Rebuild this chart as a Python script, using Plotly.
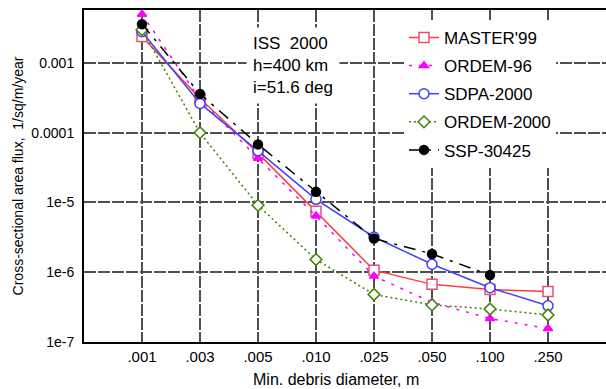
import plotly.graph_objects as go

diam = [".001", ".003", ".005", ".010", ".025", ".050", ".100", ".250"]

master99 = [2.4e-3, 3.1e-4, 5.1e-5, 7.5e-6, 1.07e-6, 6.7e-7, 5.65e-7, 5.3e-7]
ordem96 = [5.0e-3, 3.0e-4, 4.3e-5, 6.4e-6, 8.8e-7, 3.7e-7, 2.17e-7, 1.56e-7]
sdpa2000 = [2.8e-3, 2.63e-4, 5.5e-5, 1.11e-5, 3.2e-6, 1.30e-6, 6.0e-7, 3.3e-7]
ordem2000 = [3.0e-3, 1.0e-4, 9.1e-6, 1.52e-6, 4.8e-7, 3.4e-7, 2.97e-7, 2.44e-7]
ssp30425 = [3.6e-3, 3.6e-4, 6.8e-5, 1.42e-5, 3.04e-6, 1.83e-6, 9.1e-7]

ytickvals = [1e-7, 1e-6, 1e-5, 1e-4, 1e-3]
yticktext = ["1e-7", "1e-6", "1e-5", "0.0001", "0.001"]

FONT = "Arial, Liberation Sans, sans-serif"

fig = go.Figure()

def add(name, y, color, dash, symbol, size, mcolor, fill, width=1.5):
    fig.add_trace(go.Scatter(
        x=diam[:len(y)], y=y, name=name, mode="lines+markers",
        legendgroup=name,
        line=dict(color=color, width=width, dash=dash),
        marker=dict(symbol=symbol, size=size,
                    color=(mcolor if fill else "white"),
                    line=dict(color=mcolor, width=1.5)),
    ))

add("MASTER'99", master99, "#ff3c3c", "solid", "square", 10, "#e8507a", False)
add("ORDEM-96", ordem96, "#ff00ff", "3px,7px", "triangle-up", 8, "#ff00ff", True)
add("SDPA-2000", sdpa2000, "#4040ff", "solid", "circle", 10, "#4040ff", False)
add("ORDEM-2000", ordem2000, "#408000", "2px,3px", "diamond", 9, "#408000", False)
add("SSP-30425", ssp30425, "#000000", "12px,7px,3px,7px", "circle", 9, "#000000", True)

fig.add_annotation(
    xref="paper", yref="paper", x=0.31, y=0.95, xanchor="left", yanchor="top",
    text="ISS  2000<br>h=400 km<br>i=51.6 deg", align="left", showarrow=False,
    font=dict(family=FONT, size=17, color="black"),
    bgcolor="white", borderpad=6,
)

# x-axis title placed slightly left of centre, as in the reference
fig.add_annotation(
    xref="paper", yref="paper", x=0.483, y=-0.113, xanchor="center", yanchor="middle",
    text="Min. debris diameter, m", showarrow=False,
    font=dict(family=FONT, size=16, color="black"),
)

grid = dict(showgrid=True, gridcolor="#505050", gridwidth=2, griddash="12px,2px")

fig.update_layout(
    width=606, height=389,
    margin=dict(l=84, r=0, t=10, b=47),
    paper_bgcolor="white", plot_bgcolor="white",
    font=dict(family=FONT, size=14, color="black"),
    legend=dict(x=0.613, y=0.97, xanchor="left", yanchor="top",
                bgcolor="white", font=dict(family=FONT, size=17),
                traceorder="grouped", tracegroupgap=3,
                borderwidth=0),
    xaxis=dict(type="category", categoryorder="array", categoryarray=diam,
               range=[-1, 8], showline=True, linecolor="black", linewidth=2,
               mirror=True, ticks="", tickfont=dict(size=15), automargin=False,
               zeroline=False, **grid),
    yaxis=dict(type="log", range=[-7, -2.241], showline=True, linecolor="black",
               linewidth=2, ticks="", tickvals=ytickvals, ticktext=yticktext,
               tickfont=dict(size=14), ticklabelstandoff=5, automargin=False,
               title=dict(text="Cross-sectional area flux,  1/sq/m/year",
                          font=dict(size=14), standoff=4),
               zeroline=False, **grid),
)

fig.write_html("out.html", config={"displayModeBar": False},
               post_script="document.body.style.margin='0';document.body.style.padding='0';")
